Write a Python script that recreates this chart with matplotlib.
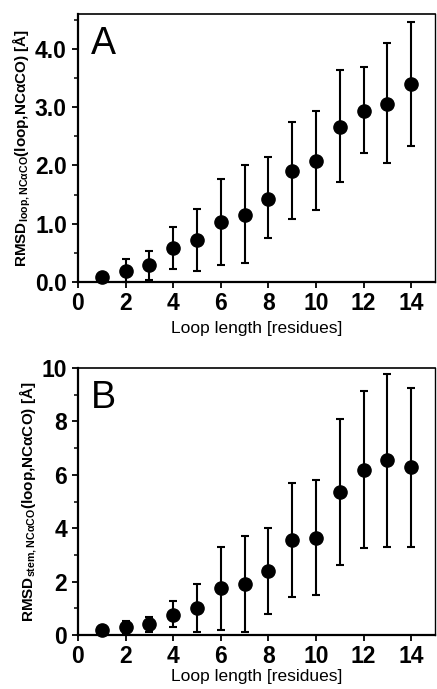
import matplotlib
matplotlib.use("Agg")
import matplotlib.pyplot as plt
from matplotlib.ticker import MultipleLocator, FormatStrFormatter

plt.rcParams['font.family'] = ['Liberation Sans', 'DejaVu Sans']
plt.rcParams['mathtext.fontset'] = 'custom'
plt.rcParams['mathtext.rm'] = 'Liberation Sans'
plt.rcParams['mathtext.it'] = 'Liberation Sans:italic'
plt.rcParams['mathtext.bf'] = 'Liberation Sans:bold'

loop_length = [1, 2, 3, 4, 5, 6, 7, 8, 9, 10, 11, 12, 13, 14]

# Panel A: RMSD loop
a_mean = [0.08, 0.19, 0.29, 0.58, 0.72, 1.03, 1.15, 1.43, 1.90, 2.08, 2.66, 2.94, 3.06, 3.40]
a_upper = [0.08, 0.39, 0.53, 0.95, 1.25, 1.77, 2.00, 2.15, 2.75, 2.94, 3.64, 3.69, 4.11, 4.46]
a_lower = [0.08, 0.00, 0.04, 0.23, 0.19, 0.30, 0.33, 0.75, 1.08, 1.23, 1.71, 2.21, 2.04, 2.34]

# Panel B: RMSD stem
b_mean = [0.19, 0.29, 0.40, 0.76, 1.02, 1.75, 1.91, 2.40, 3.56, 3.62, 5.35, 6.19, 6.54, 6.29]
b_upper = [0.35, 0.52, 0.66, 1.26, 1.91, 3.31, 3.72, 4.00, 5.71, 5.80, 8.09, 9.15, 9.76, 9.24]
b_lower = [0.06, 0.03, 0.10, 0.29, 0.12, 0.19, 0.12, 0.78, 1.44, 1.48, 2.64, 3.26, 3.31, 3.31]

xlabel = "Loop length [residues]"
a_ylabel = r"RMSD$_{\mathregular{loop,NCαCO}}$(loop,NCαCO) [Å]"
b_ylabel = r"RMSD$_{\mathregular{stem,NCαCO}}$(loop,NCαCO) [Å]"

W, H = 437, 689
fig = plt.figure(figsize=(W / 100, H / 100), dpi=100)

def make_ax(left, top, right, bottom):
    return fig.add_axes([left / W, 1 - bottom / H, (right - left) / W, (bottom - top) / H])

axA = make_ax(78, 14, 435, 282)
axB = make_ax(78, 368, 435, 635)

def style(ax, mean, upper, lower, ylim, major, minor, fmt, ylabel, letter, xpad):
    yerr = [[m - l for m, l in zip(mean, lower)], [u - m for u, m in zip(upper, mean)]]
    ax.errorbar(loop_length, mean, yerr=yerr, fmt='o', color='black', ms=9.5,
                elinewidth=1.5, capsize=3.2, capthick=1.5, clip_on=False, zorder=3)
    ax.set_xlim(0, 15)
    ax.set_ylim(*ylim)
    ax.xaxis.set_major_locator(MultipleLocator(2))
    ax.yaxis.set_major_locator(MultipleLocator(major))
    ax.yaxis.set_minor_locator(MultipleLocator(minor))
    ax.yaxis.set_major_formatter(FormatStrFormatter(fmt))
    ax.tick_params(axis='both', which='major', direction='out', length=4.5, width=1.3,
                   labelsize=16.5, pad=3.5)
    ax.tick_params(axis='x', which='major', pad=3)
    ax.tick_params(axis='y', which='minor', direction='out', length=3, width=1.1)
    for lab in ax.get_xticklabels() + ax.get_yticklabels():
        lab.set_fontweight('bold')
    ax.spines['left'].set_linewidth(1.6)
    ax.spines['bottom'].set_linewidth(1.6)
    ax.spines['top'].set_linewidth(1.2)
    ax.spines['right'].set_linewidth(1.0)
    ax.set_xlabel(xlabel, fontsize=12.5, labelpad=xpad)
    ax.set_ylabel(ylabel, fontsize=11, fontweight='bold', labelpad=1.5)
    ax.text(0.035, 0.955, letter, transform=ax.transAxes, fontsize=27,
            va='top', ha='left')

style(axA, a_mean, a_upper, a_lower, (0, 4.6), 1.0, 0.5, '%.1f', a_ylabel, 'A', 4)
style(axB, b_mean, b_upper, b_lower, (0, 10), 2, 1, '%d', b_ylabel, 'B', 0.5)

fig.savefig("out.png", dpi=100)
